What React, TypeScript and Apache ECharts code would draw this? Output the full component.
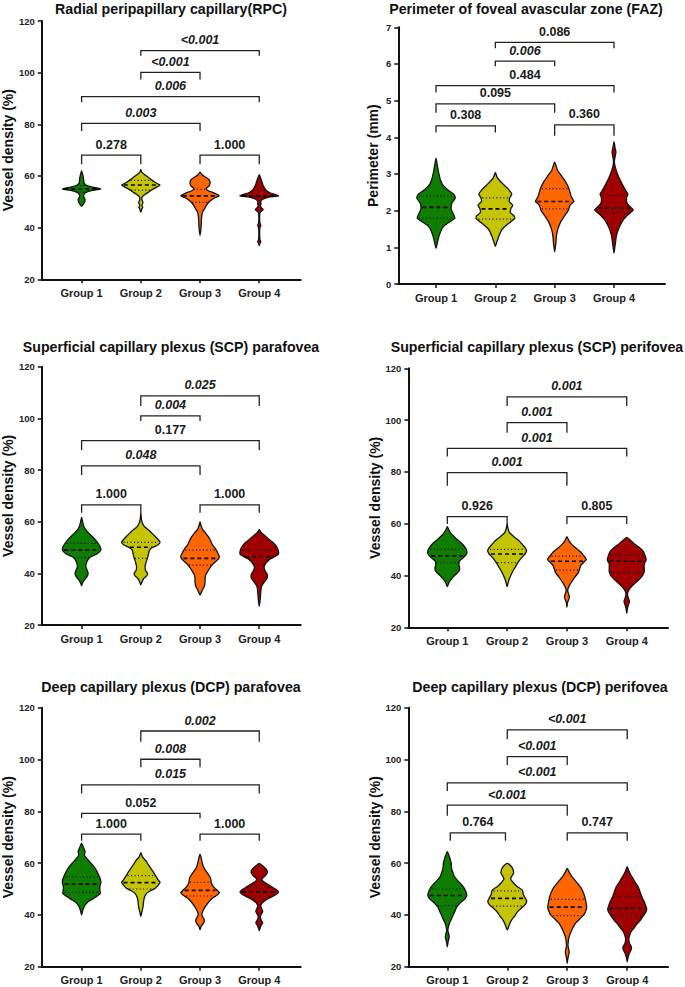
import React, { useEffect, useRef } from "react";
import * as echarts from "echarts";

const GROUPS = ["Group 1", "Group 2", "Group 3", "Group 4"];
const COLORS = ["#0f7d00", "#c4c400", "#ff6600", "#a00000"];
const FONT = '"Liberation Sans", Arial, Helvetica, sans-serif';
const HALF = 0.325;

// ---------- RPC ----------
const rpcShapes = [
  [[62,0],[60.5,0.06],[59,0.1],[57.5,0.12],[56.5,0.22],[55.8,0.5],[55.0,1.0],[54.3,0.5],[53.5,0.2],[52.5,0.1],[51.8,0.12],[51,0.18],[50,0.16],[49,0.08],[48.2,0]],
  [[62.5,0],[61.5,0.05],[60.5,0.2],[59.5,0.38],[58.5,0.55],[57.5,0.75],[56.8,0.92],[56.4,1.0],[55.8,0.85],[55,0.65],[54,0.45],[53,0.25],[52,0.08],[51,0.05],[50,0.1],[49.4,0.1],[48.6,0.05],[47.8,0.1],[47.2,0.05],[46.5,0.03],[46,0]],
  [[61.5,0],[60.5,0.1],[59.5,0.3],[58.5,0.48],[57,0.52],[56,0.45],[55.2,0.32],[54.2,0.45],[53.2,0.8],[52.3,1.0],[51.5,0.75],[50,0.48],[48.5,0.32],[47.5,0.25],[46,0.13],[44,0.08],[41,0.06],[39,0.04],[37,0]],
  [[60.5,0],[59,0.08],[57.5,0.15],[56,0.22],[54.5,0.35],[53.5,0.55],[52.8,0.85],[52.3,1.0],[51.8,0.5],[51,0.18],[50,0.07],[49.2,0.09],[48.5,0.05],[47.6,0.12],[47,0.2],[46.3,0.1],[45.5,0.03],[42,0.03],[40.8,0.08],[40,0.03],[35.5,0.03],[34.5,0.08],[33.8,0.03],[33,0]],
];
const rpcMedian = [55.0, 56.5, 52.3, 52.3];
const rpcQ1 = [53.8, 54.5, 49.8, 51.8];
const rpcQ3 = [56.3, 58.3, 54.8, 54.7];
const rpcBrackets = [
  [1, 2, 68.1, 64.5, "0.278", false],
  [3, 4, 68.1, 64.5, "1.000", false],
  [1, 3, 80.4, 77.4, "0.003", true],
  [1, 4, 90.7, 88.5, "0.006", true],
  [2, 3, 100.1, 97.4, "<0.001", true],
  [2, 4, 108.5, 106.5, "<0.001", true],
];

// ---------- FAZ ----------
const fazShapes = [
  [[3.43,0],[3.2,0.08],[3.0,0.15],[2.85,0.22],[2.7,0.35],[2.55,0.65],[2.45,0.92],[2.35,1.0],[2.2,0.82],[2.05,0.78],[1.9,0.9],[1.8,0.98],[1.7,0.72],[1.6,0.45],[1.5,0.3],[1.35,0.18],[1.2,0.1],[1.05,0.04],[0.97,0]],
  [[3.04,0],[2.9,0.1],[2.75,0.35],[2.6,0.65],[2.45,0.85],[2.35,0.75],[2.25,0.72],[2.15,0.9],[2.05,0.8],[1.95,0.78],[1.85,0.98],[1.78,1.0],[1.68,0.75],[1.55,0.45],[1.45,0.3],[1.3,0.18],[1.15,0.08],[1.03,0]],
  [[3.32,0],[3.1,0.15],[2.95,0.35],[2.8,0.55],[2.65,0.7],[2.5,0.8],[2.4,0.85],[2.3,0.95],[2.25,1.0],[2.15,0.8],[2.0,0.7],[1.85,0.5],[1.7,0.32],[1.55,0.2],[1.4,0.12],[1.25,0.08],[1.1,0.06],[0.95,0.02],[0.88,0]],
  [[3.88,0],[3.7,0.06],[3.6,0.1],[3.5,0.07],[3.35,0.02],[3.2,0.06],[3.0,0.18],[2.8,0.35],[2.6,0.55],[2.45,0.72],[2.35,0.65],[2.2,0.68],[2.1,0.85],[2.02,1.0],[1.9,0.75],[1.75,0.48],[1.6,0.32],[1.45,0.2],[1.3,0.12],[1.1,0.07],[0.95,0.03],[0.84,0]],
];
const fazMedian = [2.09, 2.05, 2.25, 2.07];
const fazQ1 = [1.8, 1.77, 2.05, 1.93];
const fazQ3 = [2.4, 2.35, 2.6, 2.42];
const fazBrackets = [
  [1, 2, 4.31, 4.13, "0.308", false],
  [3, 4, 4.34, 4.04, "0.360", false],
  [1, 3, 4.91, 4.67, "0.095", false],
  [1, 4, 5.41, 5.22, "0.484", false],
  [2, 3, 6.08, 5.94, "0.006", true],
  [2, 4, 6.59, 6.43, "0.086", false],
];

// ---------- SCP parafovea ----------
const scpParaShapes = [
  [[61.7,0],[60,0.05],[58,0.12],[56.5,0.25],[55,0.45],[53.5,0.65],[52,0.82],[50.5,0.95],[49,1.0],[47.5,0.8],[46.5,0.5],[45.5,0.35],[44,0.25],[42.5,0.22],[41,0.3],[40,0.34],[39,0.3],[37.5,0.15],[36.3,0.05],[35.2,0]],
  [[63.5,0],[61,0.03],[59.5,0.08],[58,0.2],[56.5,0.45],[55,0.65],[53.5,0.85],[52,1.0],[51,0.88],[50,0.6],[49,0.45],[47.5,0.4],[46,0.35],[44,0.26],[42.5,0.22],[41,0.25],[40,0.35],[39,0.3],[38,0.15],[36.5,0.05],[35.5,0]],
  [[60,0],[58.5,0.05],[57,0.13],[55.5,0.3],[54,0.45],[52.5,0.55],[51,0.65],[49.5,0.8],[48,0.92],[46.5,1.0],[45.5,0.95],[44,0.72],[42.5,0.55],[41,0.42],[39.5,0.3],[38,0.26],[36.5,0.26],[35,0.22],[33.5,0.12],[31.6,0]],
  [[57,0],[55.8,0.1],[54.8,0.25],[53.5,0.45],[52,0.7],[50.5,0.88],[49,0.98],[47.5,1.0],[46.5,0.82],[45.5,0.55],[44,0.35],[42.5,0.25],[41,0.3],[39.5,0.42],[38,0.4],[36.5,0.25],[35,0.12],[33,0.08],[30,0.05],[27.2,0]],
];
const scpParaMedian = [49.0, 50.1, 45.8, 46.5];
const scpParaQ1 = [46.1, 45.8, 43.2, 43.5];
const scpParaQ3 = [51.6, 52.0, 49.0, 49.0];
const scpParaBrackets = [
  [1, 2, 66.5, 63.5, "1.000", false],
  [3, 4, 66.5, 63.5, "1.000", false],
  [1, 3, 81.6, 78.1, "0.048", true],
  [1, 4, 91.4, 87.7, "0.177", false],
  [2, 3, 101, 99, "0.004", true],
  [2, 4, 108.7, 104.8, "0.025", true],
];

// ---------- SCP perifovea ----------
const scpPeriShapes = [
  [[58.9,0],[57.5,0.08],[56,0.22],[54.5,0.42],[53,0.65],[51.5,0.85],[50,0.98],[48.5,1.0],[47,0.85],[45.5,0.62],[44,0.6],[43,0.63],[42,0.62],[40.5,0.45],[39,0.25],[37.5,0.1],[35.7,0]],
  [[59.9,0],[58,0.05],[56.5,0.13],[55,0.35],[53.5,0.6],[52,0.78],[50.5,0.95],[49.5,1.0],[48.3,0.92],[47,0.76],[45.5,0.6],[44,0.48],[42.5,0.36],[41,0.25],[39.5,0.16],[38,0.08],[35.7,0]],
  [[55,0],[53.5,0.1],[52,0.25],[50.5,0.48],[49,0.72],[47.5,0.88],[46.2,1.0],[45,0.85],[44,0.72],[42.5,0.65],[41,0.58],[39.5,0.42],[38,0.28],[36.5,0.15],[35,0.06],[34,0.04],[33,0.08],[31.8,0.13],[30.5,0.08],[29.5,0.03],[27.7,0]],
  [[54.7,0],[53.5,0.2],[52.3,0.38],[50.8,0.65],[49.3,0.85],[47.5,0.95],[46,1.0],[44.5,0.9],[43,0.9],[41.5,0.9],[40,0.82],[38.5,0.65],[37,0.42],[35.5,0.22],[34,0.08],[32.5,0.04],[31,0.1],[30,0.14],[29,0.1],[27.5,0.04],[25.4,0]],
];
const scpPeriMedian = [47.6, 48.3, 45.5, 45.5];
const scpPeriQ1 = [45.0, 45.0, 42.1, 41.2];
const scpPeriQ3 = [50.1, 50.1, 47.5, 47.9];
const scpPeriBrackets = [
  [1, 2, 62.7, 59.9, "0.926", false],
  [3, 4, 62.7, 59.9, "0.805", false],
  [1, 3, 79.7, 74.7, "0.001", true],
  [1, 4, 89.1, 85.9, "0.001", true],
  [2, 3, 99, 95.1, "0.001", true],
  [2, 4, 109, 105.4, "0.001", true],
];

// ---------- DCP parafovea ----------
const dcpParaShapes = [
  [[67.6,0],[66,0.1],[64.5,0.18],[63,0.15],[61.5,0.3],[60,0.48],[58.5,0.65],[57,0.78],[55.5,0.88],[54,0.97],[52.5,1.0],[51,0.95],[49.5,0.95],[48.3,0.98],[47,0.75],[46,0.55],[45,0.32],[43.5,0.15],[42,0.07],[40,0]],
  [[64,0],[62.5,0.08],[61,0.25],[59.5,0.38],[58,0.52],[56.5,0.65],[55,0.78],[53.5,0.9],[52.5,1.0],[51.5,0.9],[50.3,0.75],[49.3,0.5],[48.3,0.3],[47,0.2],[45.5,0.15],[44,0.13],[42.5,0.1],[41,0.05],[39.3,0]],
  [[63.5,0],[62,0.06],[60,0.12],[58.5,0.18],[57,0.3],[55.5,0.45],[54,0.55],[52.5,0.58],[51,0.68],[49.8,0.85],[48.5,1.0],[47.5,0.85],[46.5,0.65],[45,0.45],[43.5,0.3],[42,0.18],[40.5,0.1],[39.5,0.12],[38.5,0.2],[37.5,0.22],[36.5,0.15],[35.5,0.05],[34.2,0]],
  [[59.9,0],[58.8,0.2],[57.5,0.38],[56.3,0.42],[55,0.3],[54,0.15],[53.2,0.16],[52.2,0.35],[51,0.62],[49.8,0.88],[48.8,1.0],[47.8,0.85],[46.8,0.62],[45.8,0.35],[44.6,0.15],[43.5,0.08],[42.5,0.12],[41.3,0.18],[40.2,0.1],[39.2,0.05],[38,0.1],[37,0.18],[36,0.1],[34.8,0.04],[33.9,0]],
];
const dcpParaMedian = [51.9, 52.5, 49.5, 48.9];
const dcpParaQ1 = [48.7, 50.0, 47.3, 47.0];
const dcpParaQ3 = [54.7, 55.2, 52.6, 50.6];
const dcpParaBrackets = [
  [1, 2, 71.2, 68.6, "1.000", false],
  [3, 4, 71.2, 68.6, "1.000", false],
  [1, 3, 79.2, 77.3, "0.052", false],
  [1, 4, 90.2, 86.9, "0.015", true],
  [2, 3, 100.1, 97, "0.008", true],
  [2, 4, 111, 106.9, "0.002", true],
];

// ---------- DCP perifovea ----------
const dcpPeriShapes = [
  [[64.4,0],[63,0.08],[61.5,0.15],[60,0.2],[58,0.22],[56.5,0.28],[55,0.35],[53.5,0.5],[52,0.7],[50.5,0.85],[49,0.95],[47.5,1.0],[46,0.88],[44.5,0.65],[43,0.48],[41.5,0.4],[40,0.3],[38.5,0.22],[37,0.12],[35.5,0.06],[34,0.03],[32.5,0.08],[31.3,0.1],[30,0.05],[27.7,0]],
  [[59.9,0],[58.8,0.2],[57.5,0.3],[56,0.32],[54.8,0.22],[53.8,0.17],[52.5,0.3],[51,0.5],[49.5,0.78],[48,0.82],[46.5,0.92],[45.3,1.0],[44,0.92],[42.5,0.7],[41,0.5],[39.5,0.38],[38,0.22],[36.5,0.12],[34.2,0]],
  [[58,0],[56.5,0.1],[55,0.22],[53.5,0.38],[52,0.55],[50.5,0.7],[49,0.8],[47.5,0.88],[46,0.93],[44.5,0.97],[43,1.0],[41.5,0.95],[40,0.85],[38.5,0.65],[37,0.45],[35.5,0.32],[34,0.22],[32.5,0.14],[31,0.08],[29.5,0.05],[28,0.04],[26.5,0.08],[25.5,0.1],[24.3,0.06],[22.5,0.02],[21.3,0]],
  [[58.6,0],[57,0.08],[55.5,0.18],[54,0.3],[52.5,0.42],[51,0.55],[49.5,0.63],[48,0.7],[46.5,0.78],[45,0.88],[43.5,0.95],[42.3,1.0],[41,0.95],[39.5,0.82],[38,0.68],[36.5,0.5],[35,0.36],[33.5,0.2],[32,0.12],[30.5,0.08],[29,0.12],[27.5,0.22],[26.5,0.2],[25,0.1],[23.5,0.04],[21.9,0]],
];
const dcpPeriMedian = [47.5, 46.4, 43.0, 42.5];
const dcpPeriQ1 = [43.6, 43.4, 39.7, 39.7];
const dcpPeriQ3 = [50.0, 49.3, 46.0, 46.8];
const dcpPeriBrackets = [
  [1.05, 1.97, 71.7, 68.6, "0.764", false],
  [3, 4, 71.7, 68.6, "0.747", false],
  [1, 3, 82.4, 78.3, "<0.001", true],
  [1, 4, 91, 87.8, "<0.001", true],
  [2, 3, 101.1, 97.9, "<0.001", true],
  [2, 4, 111.4, 107.8, "<0.001", true],
];

const PANELS = [
  { title: "Radial peripapillary capillary(RPC)", tx: 171, ty: 9, left: 41, top: 21, width: 259.7, height: 258.3, xmin: 0.327, xmax: 4.7, ymin: 20, ymax: 120, yint: 20, yname: "Vessel density (%)", nameGap: 26, shapes: rpcShapes, med: rpcMedian, q1: rpcQ1, q3: rpcQ3, br: rpcBrackets },
  { title: "Perimeter of foveal avascular zone (FAZ)", tx: 526, ty: 9, left: 398.3, top: 27.3, width: 266.7, height: 256.7, xmin: 0.364, xmax: 4.86, ymin: 0, ymax: 7, yint: 1, yname: "Perimeter (mm)", nameGap: 18, shapes: fazShapes, med: fazMedian, q1: fazQ1, q3: fazQ3, br: fazBrackets },
  { title: "Superficial capillary plexus (SCP) parafovea", tx: 171, ty: 347, left: 41, top: 366.7, width: 259.7, height: 258.3, xmin: 0.327, xmax: 4.7, ymin: 20, ymax: 120, yint: 20, yname: "Vessel density (%)", nameGap: 26, shapes: scpParaShapes, med: scpParaMedian, q1: scpParaQ1, q3: scpParaQ3, br: scpParaBrackets },
  { title: "Superficial capillary plexus (SCP) perifovea", tx: 537, ty: 347, left: 408.3, top: 368.3, width: 259.7, height: 259, xmin: 0.348, xmax: 4.69, ymin: 20, ymax: 120, yint: 20, yname: "Vessel density (%)", nameGap: 26, shapes: scpPeriShapes, med: scpPeriMedian, q1: scpPeriQ1, q3: scpPeriQ3, br: scpPeriBrackets },
  { title: "Deep capillary plexus (DCP) parafovea", tx: 171, ty: 687, left: 41, top: 707.7, width: 259.7, height: 259, xmin: 0.327, xmax: 4.7, ymin: 20, ymax: 120, yint: 20, yname: "Vessel density (%)", nameGap: 26, shapes: dcpParaShapes, med: dcpParaMedian, q1: dcpParaQ1, q3: dcpParaQ3, br: dcpParaBrackets },
  { title: "Deep capillary plexus (DCP) perifovea", tx: 540, ty: 687, left: 408.3, top: 707.7, width: 259.7, height: 259, xmin: 0.35, xmax: 4.68, ymin: 20, ymax: 120, yint: 20, yname: "Vessel density (%)", nameGap: 26, shapes: dcpPeriShapes, med: dcpPeriMedian, q1: dcpPeriQ1, q3: dcpPeriQ3, br: dcpPeriBrackets },
];

function interpW(prof: number[][], v: number): number {
  for (let k = 0; k < prof.length - 1; k++) {
    const [v1, w1] = prof[k];
    const [v2, w2] = prof[k + 1];
    if (v <= v1 && v >= v2) {
      const t = (v1 - v) / (v1 - v2 || 1);
      return w1 + (w2 - w1) * t;
    }
  }
  return 0;
}

function buildOption() {
  const grid: any[] = [];
  const xAxis: any[] = [];
  const yAxis: any[] = [];
  const series: any[] = [];
  const graphic: any[] = [];
  PANELS.forEach((p, k) => {
    grid.push({ left: p.left, top: p.top, width: p.width, height: p.height, containLabel: false });
    xAxis.push({
      gridIndex: k, type: "value", min: p.xmin, max: p.xmax,
      axisLine: { show: true, onZero: false, lineStyle: { color: "#111", width: 2 } },
      axisTick: { show: true, length: 4, customValues: [1, 2, 3, 4], lineStyle: { color: "#111", width: 1.5 } },
      axisLabel: { customValues: [1, 2, 3, 4], formatter: (v: number) => GROUPS[Math.round(v) - 1] || "", fontSize: 11, fontWeight: "bold", fontFamily: FONT, color: "#222", margin: 8 },
      splitLine: { show: false },
    });
    yAxis.push({
      gridIndex: k, type: "value", min: p.ymin, max: p.ymax, interval: p.yint,
      name: p.yname, nameLocation: "middle", nameGap: p.nameGap,
      nameTextStyle: { fontSize: 14, fontWeight: "bold", fontFamily: FONT, color: "#111" },
      axisLine: { show: true, lineStyle: { color: "#111", width: 2 } },
      axisTick: { show: true, length: 4, lineStyle: { color: "#111", width: 1.5 } },
      axisLabel: { fontSize: 9.5, fontWeight: "bold", fontFamily: FONT, color: "#222", margin: 7 },
      splitLine: { show: false },
    });
    series.push({
      type: "custom", xAxisIndex: k, yAxisIndex: k,
      data: p.shapes.map((_, i) => [i + 1, p.med[i]]),
      encode: { x: 0, y: 1 },
      renderItem: (params: any, api: any) => {
        const i = params.dataIndex;
        const prof = p.shapes[i];
        const cx = i + 1;
        const pts: number[][] = [];
        prof.forEach(([v, w]) => pts.push(api.coord([cx + w * HALF, v])));
        for (let m = prof.length - 2; m >= 1; m--) {
          const [v, w] = prof[m];
          pts.push(api.coord([cx - w * HALF, v]));
        }
        const children: any[] = [
          { type: "polygon", shape: { points: pts, smooth: 0.2 }, style: { fill: COLORS[i], stroke: "#111", lineWidth: 1.3 } },
        ];
        const lines: [number, boolean][] = [[p.q3[i], false], [p.med[i], true], [p.q1[i], false]];
        lines.forEach(([v, isMed]) => {
          const w = interpW(prof, v) * HALF * 0.9;
          const a = api.coord([cx - w, v]);
          const b = api.coord([cx + w, v]);
          children.push({
            type: "line",
            shape: { x1: a[0], y1: a[1], x2: b[0], y2: b[1] },
            style: { stroke: "#000", lineWidth: isMed ? 1.7 : 1.2, lineDash: isMed ? [4, 3] : [1, 2.5] },
          });
        });
        return { type: "group", children };
      },
      z: 2,
    });
    series.push({
      type: "custom", xAxisIndex: k, yAxisIndex: k,
      data: p.br.map((b: any[]) => [b[0], b[1], b[2], b[3]]),
      encode: { x: [0, 1], y: [2, 3] },
      renderItem: (params: any, api: any) => {
        const b = p.br[params.dataIndex] as any[];
        const [a, c, y, leg, label, sig] = b;
        const p1 = api.coord([a, leg]);
        const p2 = api.coord([a, y]);
        const p3 = api.coord([c, y]);
        const p4 = api.coord([c, leg]);
        const mid = api.coord([(a + c) / 2, y]);
        return {
          type: "group",
          children: [
            { type: "polyline", shape: { points: [p1, p2, p3, p4] }, style: { stroke: "#222", lineWidth: 1.3, fill: null } },
            {
              type: "text", x: mid[0], y: mid[1] - 10.5,
              style: { text: label, align: "center", verticalAlign: "middle", fontSize: 12.5, fontWeight: "bold", fontStyle: sig ? "italic" : "normal", fontFamily: FONT, fill: "#1a1a1a" },
            },
          ],
        };
      },
      z: 3,
    });
    graphic.push({
      type: "text", x: p.tx, y: p.ty,
      style: { text: p.title, align: "center", verticalAlign: "middle", fontSize: 14.2, fontWeight: "bold", fontFamily: FONT, fill: "#111" },
    });
  });
  return { animation: false, backgroundColor: "#ffffff", grid, xAxis, yAxis, series, graphic };
}

export default function App() {
  const ref = useRef<HTMLDivElement>(null);
  useEffect(() => {
    if (!ref.current) return;
    const chart = echarts.init(ref.current, undefined, { renderer: "svg" });
    chart.setOption(buildOption() as any);
    return () => chart.dispose();
  }, []);
  return <div ref={ref} style={{ position: "absolute", left: 0, top: 0, width: 685, height: 987, background: "#fff" }} />;
}
